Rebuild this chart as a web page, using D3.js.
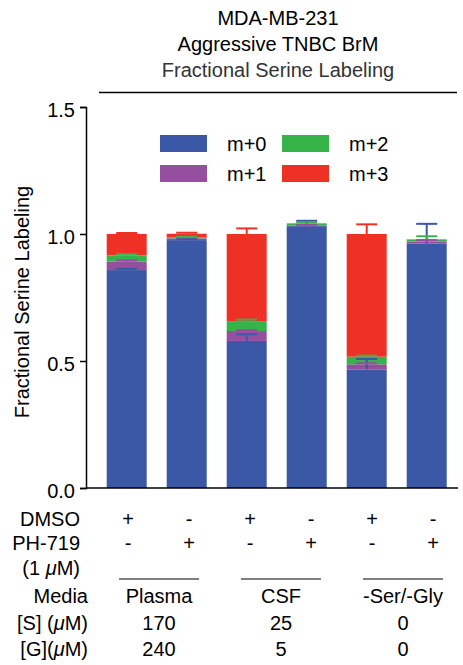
<!DOCTYPE html>
<html>
<head>
<meta charset="utf-8">
<script src="https://cdn.jsdelivr.net/npm/d3@7"></script>
<style>
  html, body { margin: 0; padding: 0; background: #fff; }
  svg { display: block; font-family: "Liberation Sans", Arial, Helvetica, sans-serif; }
</style>
</head>
<body>
<svg id="chart" width="463" height="665"></svg>
<script>
// ---------- DATA ----------
const samples = ["Plasma DMSO", "Plasma PH-719", "CSF DMSO", "CSF PH-719", "-Ser/-Gly DMSO", "-Ser/-Gly PH-719"];
const seriesNames = ["m+0", "m+1", "m+2", "m+3"];
const m0 = [0.858, 0.976, 0.579, 1.031, 0.467, 0.963];
const m1 = [0.033, 0.007, 0.039, 0.003, 0.020, 0.008];
const m2 = [0.025, 0.003, 0.039, 0.008, 0.030, 0.008];
const m3 = [0.084, 0.015, 0.343, 0.000, 0.483, 0.000];
const e0 = [0.005, 0.004, 0.026, 0.021, 0.041, 0.077];
const e1 = [0.005, 0.004, 0.004, 0.002, 0.004, 0.005];
const e2 = [0.005, 0.003, 0.006, 0.004, 0.004, 0.012];
const e3 = [0.004, 0.004, 0.022, 0.000, 0.038, 0.000];
const yTicks = [0.0, 0.5, 1.0, 1.5];
const dmso = ["+", "-", "+", "-", "+", "-"];
const ph719 = ["-", "+", "-", "+", "-", "+"];
const media = ["Plasma", "CSF", "-Ser/-Gly"];
const serineConc = ["170", "25", "0"];
const glycineConc = ["240", "5", "0"];
const titleLines = ["MDA-MB-231", "Aggressive TNBC BrM", "Fractional Serine Labeling"];
const colors = ["#3B58A6", "#94509E", "#36B44A", "#EE3124"];

// ---------- LAYOUT ----------
const svg = d3.select("#chart");
const FONT = 20;
const plot = { left: 86, right: 458, top: 107, bottom: 488 };

const x = d3.scaleBand().domain(samples)
  .range([96.7, 456.7]).paddingInner(1/3).paddingOuter(1/6);
const y = d3.scaleLinear().domain([0, 1.5]).range([plot.bottom, plot.top]);

// table column scales (slightly wider spread than bars, as in reference)
const colX = d3.scaleBand().domain(samples).range([97.5, 463.5]);
const grpX = d3.scaleBand().domain(media).range([98, 464]);

// ---------- TITLE ----------
const titleY = [25, 51, 77];
svg.append("g").selectAll("text").data(titleLines).join("text")
  .attr("x", 278).attr("y", (d, i) => titleY[i])
  .attr("text-anchor", "middle").attr("font-size", FONT)
  .attr("fill", (d, i) => i === 2 ? "#333" : "#000")
  .text(d => d);
svg.append("line").attr("x1", 99).attr("x2", 457).attr("y1", 92.5).attr("y2", 92.5)
  .attr("stroke", "#000").attr("stroke-width", 1.5);

// ---------- STACKED BARS ----------
const table = samples.map((s, i) => ({ sample: s, "m+0": m0[i], "m+1": m1[i], "m+2": m2[i], "m+3": m3[i] }));
const errs = [e0, e1, e2, e3];
const stack = d3.stack().keys(seriesNames)(table);

const barsG = svg.append("g");
stack.forEach((layer, k) => {
  barsG.append("g").attr("fill", colors[k])
    .selectAll("rect").data(layer).join("rect")
    .attr("x", d => x(d.data.sample))
    .attr("width", x.bandwidth())
    .attr("y", d => y(d[1]))
    .attr("height", d => Math.max(0, y(d[0]) - y(d[1])));
});

// error bars (upward, at each segment top)
const errG = svg.append("g");
const capW = 21;
stack.forEach((layer, k) => {
  layer.forEach((d, i) => {
    const e = errs[k][i];
    if (d[1] - d[0] <= 0 && e <= 0) return;
    const cx = x(d.data.sample) + x.bandwidth() / 2;
    const g = errG.append("g").attr("stroke", colors[k]).attr("stroke-width", 2);
    g.append("line").attr("x1", cx).attr("x2", cx).attr("y1", y(d[1])).attr("y2", y(d[1] + e));
    g.append("line").attr("x1", cx - capW / 2).attr("x2", cx + capW / 2)
      .attr("y1", y(d[1] + e)).attr("y2", y(d[1] + e));
  });
});

// ---------- AXES ----------
const yAxis = d3.axisLeft(y).tickValues(yTicks).tickFormat(d3.format(".1f")).tickSize(6).tickPadding(5);
const yG = svg.append("g").attr("transform", `translate(${plot.left},0)`).call(yAxis);
yG.select(".domain").attr("stroke-width", 1.5);
yG.selectAll(".tick line").attr("stroke-width", 1.5);
yG.selectAll(".tick text").attr("font-size", FONT).attr("font-family", "Liberation Sans, Arial, sans-serif")
  .attr("fill", "#000").attr("dy", "0.45em");

svg.append("line").attr("x1", plot.left).attr("x2", plot.right)
  .attr("y1", plot.bottom).attr("y2", plot.bottom)
  .attr("stroke", "#000").attr("stroke-width", 1.5);

// y-axis title
svg.append("text")
  .attr("transform", `translate(29,302) rotate(-90)`)
  .attr("text-anchor", "middle").attr("font-size", FONT)
  .text("Fractional Serine Labeling");

// ---------- LEGEND ----------
const legendPos = [
  { x: 160, y: 135 }, { x: 160, y: 165 }, { x: 282, y: 135 }, { x: 282, y: 165 }
];
const legG = svg.append("g");
seriesNames.forEach((n, k) => {
  const p = legendPos[k];
  legG.append("rect").attr("x", p.x).attr("y", p.y).attr("width", 47).attr("height", 17).attr("fill", colors[k]);
  legG.append("text").attr("x", p.x + 67).attr("y", p.y + 15.5).attr("font-size", FONT).text(n);
});

// ---------- TABLE BELOW ----------
const rowBase = { dmso: 526, ph: 550, um: 575, media: 603, s: 630, g: 656 };
const tG = svg.append("g").attr("font-size", FONT);

function leftLabel(yb, xr, parts) {
  const t = tG.append("text").attr("x", xr).attr("y", yb).attr("text-anchor", "end");
  parts.forEach(p => t.append("tspan").attr("font-style", p.it ? "italic" : null).text(p.t));
}
leftLabel(rowBase.dmso, 80, [{ t: "DMSO" }]);
leftLabel(rowBase.ph, 80, [{ t: "PH-719" }]);
leftLabel(rowBase.um, 80, [{ t: "(1 " }, { t: "\u03BC", it: true }, { t: "M)" }]);
leftLabel(rowBase.media, 88, [{ t: "Media" }]);
leftLabel(rowBase.s, 88, [{ t: "[S] (" }, { t: "\u03BC", it: true }, { t: "M)" }]);
leftLabel(rowBase.g, 88, [{ t: "[G](" }, { t: "\u03BC", it: true }, { t: "M)" }]);

const cxc = s => colX(s) + colX.bandwidth() / 2;
tG.selectAll(".dmso").data(samples).join("text").attr("class", "dmso")
  .attr("x", cxc).attr("y", rowBase.dmso).attr("text-anchor", "middle").text((d, i) => dmso[i]);
tG.selectAll(".ph").data(samples).join("text").attr("class", "ph")
  .attr("x", cxc).attr("y", rowBase.ph).attr("text-anchor", "middle").text((d, i) => ph719[i]);

const gxc = m => grpX(m) + grpX.bandwidth() / 2;
tG.selectAll(".gline").data(media).join("line").attr("class", "gline")
  .attr("x1", d => gxc(d) - 40).attr("x2", d => gxc(d) + 40)
  .attr("y1", 579).attr("y2", 579).attr("stroke", "#000").attr("stroke-width", 1.2);
tG.selectAll(".media").data(media).join("text").attr("class", "media")
  .attr("x", gxc).attr("y", rowBase.media).attr("text-anchor", "middle").text(d => d);
tG.selectAll(".sc").data(media).join("text").attr("class", "sc")
  .attr("x", gxc).attr("y", rowBase.s).attr("text-anchor", "middle").text((d, i) => serineConc[i]);
tG.selectAll(".gc").data(media).join("text").attr("class", "gc")
  .attr("x", gxc).attr("y", rowBase.g).attr("text-anchor", "middle").text((d, i) => glycineConc[i]);
</script>
</body>
</html>
